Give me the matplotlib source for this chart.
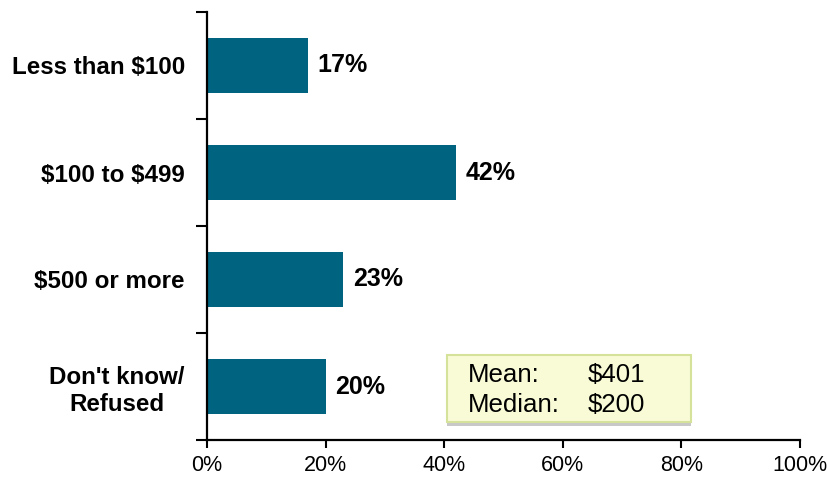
import matplotlib
matplotlib.use("Agg")
import matplotlib.pyplot as plt
from matplotlib.patches import Rectangle
import numpy as np

categories = ["Less than $100", "$100 to $499", "$500 or more", "Don't know/\nRefused"]
values = [17, 42, 23, 20]
value_labels = ["17%", "42%", "23%", "20%"]
xticks = [0, 20, 40, 60, 80, 100]
xtick_labels = ["0%", "20%", "40%", "60%", "80%", "100%"]
stats_names = ["Mean:", "Median:"]
stats_values = ["$401", "$200"]

plt.rcParams['font.family'] = ['Liberation Sans', 'DejaVu Sans']
plt.rcParams['text.parse_math'] = False

fig = plt.figure(figsize=(8.28, 4.82), dpi=100)
ax = fig.add_axes([207/828, 42/482, (800-207)/828, (440-12)/482])

n = len(categories)
ypos = np.arange(n)[::-1]
bar_color = "#00637f"
ax.barh(ypos, values, height=0.52, color=bar_color, edgecolor="none", zorder=2)

for y, v, lab in zip(ypos, values, value_labels):
    ax.text(v + 1.6, y, lab, va="center", ha="left", fontsize=18, fontweight="bold", color="black")

ax.set_xlim(0, 100)
ax.set_ylim(-0.5, n - 0.5)

ax.set_xticks(xticks)
ax.set_xticklabels(xtick_labels, fontsize=15.5)
ax.set_yticks(ypos)
ax.set_yticklabels(categories, fontsize=17.4, fontweight="bold")
for t in ax.get_yticklabels():
    t.set_multialignment("center")
ax.set_yticks(np.arange(n + 1) - 0.5, minor=True)

ax.tick_params(axis="y", which="major", length=0, pad=16)
ax.tick_params(axis="y", which="minor", length=8, width=1.5, direction="out")
ax.tick_params(axis="x", which="major", length=6, width=1.5, direction="out", pad=5)

for s in ["top", "right"]:
    ax.spines[s].set_visible(False)
for s in ["left", "bottom"]:
    ax.spines[s].set_linewidth(1.6)
    ax.spines[s].set_color("black")

# stats box (axes-fraction coordinates)
bx0 = (447-207)/593
bx1 = (691-207)/593
by0 = (440-422)/428
by1 = (440-355)/428
shadow = Rectangle((bx0, by0 - 4/428), bx1 - bx0, 4/428, transform=ax.transAxes,
                   facecolor="#c8c8c8", edgecolor="none", hatch="xxxx", zorder=3, clip_on=False)
ax.add_patch(shadow)
box = Rectangle((bx0, by0), bx1 - bx0, by1 - by0, transform=ax.transAxes,
                facecolor="#f8fbd6", edgecolor="#d4e29a", linewidth=1.5, zorder=4, clip_on=False)
ax.add_patch(box)

row_y = [(440-375)/428, (440-405)/428]
for ry, nm, vl in zip(row_y, stats_names, stats_values):
    ax.text((468-207)/593, ry, nm, transform=ax.transAxes, fontsize=18.6, va="center", ha="left", zorder=5)
    ax.text((588-207)/593, ry, vl, transform=ax.transAxes, fontsize=18.6, va="center", ha="left", zorder=5)

fig.savefig("out.png", dpi=100)
